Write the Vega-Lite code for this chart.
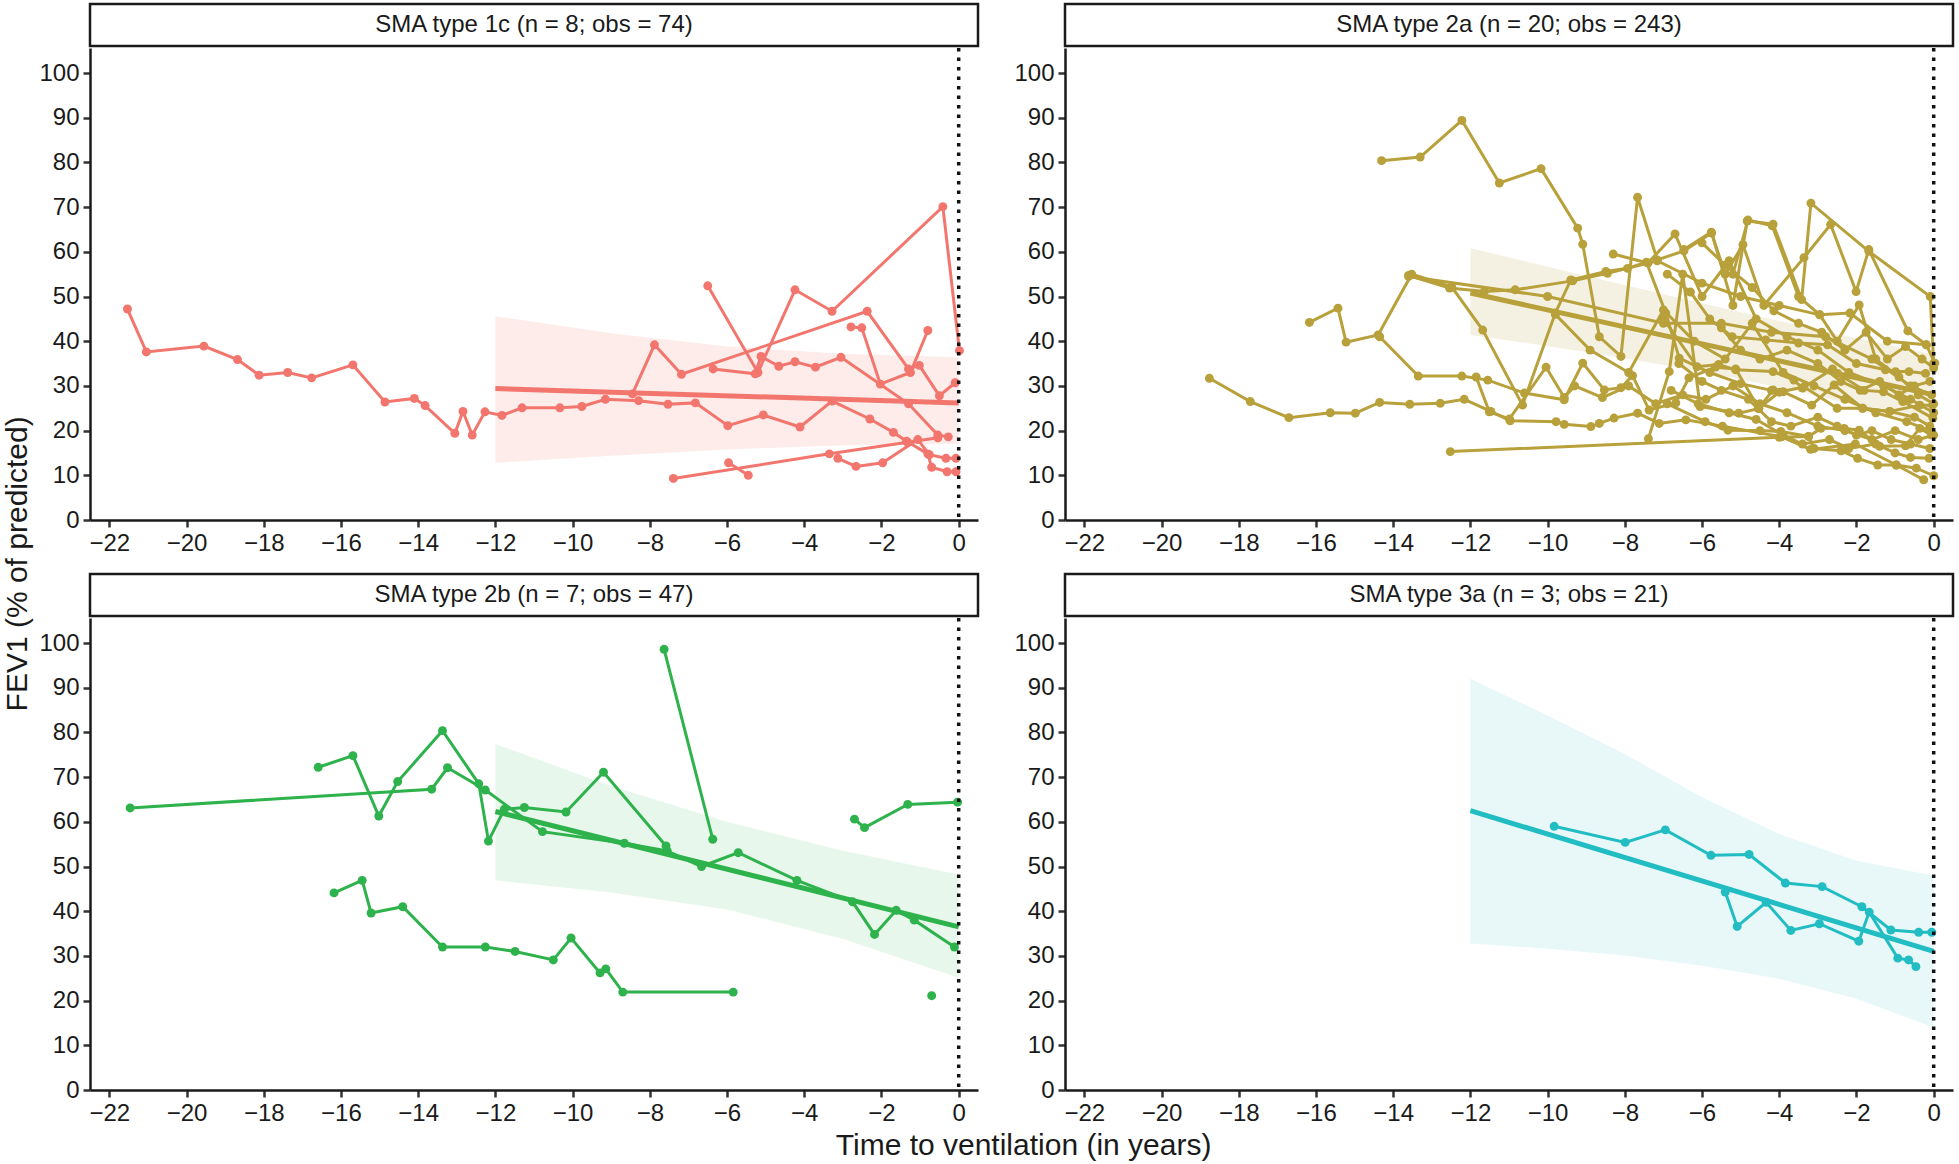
{
"$schema": "https://vega.github.io/schema/vega-lite/v6.json",
"padding": {"left": 2, "top": 2, "right": 4, "bottom": 5},
"background": "white",
"config": {
  "font": "Liberation Sans",
  "view": {"stroke": null},
  "axis": {"grid": false, "domainColor": "#1a1a1a", "domainWidth": 2.5, "tickColor": "#333333", "tickWidth": 2.5, "tickSize": 7, "labelFontSize": 24, "labelColor": "#1a1a1a", "labelPadding": 4, "labelFont": "Liberation Sans"},
  "title": {"fontWeight": "normal", "color": "#1a1a1a", "fontSize": 30, "font": "Liberation Sans"}
},
"datasets": {
"zero": [{"t": 0}],
"fit": [
{"g":"1c","t":-12,"v":29.4},{"g":"1c","t":0,"v":26.2},
{"g":"2a","t":-12,"v":50.8},{"g":"2a","t":0,"v":28.0},
{"g":"2b","t":-12,"v":62.3},{"g":"2b","t":0,"v":36.5},
{"g":"3a","t":-12,"v":62.5},{"g":"3a","t":0,"v":31.0}
],
"band": [
{"g":"1c","t":-12,"lo":12.8,"hi":45.6},{"g":"1c","t":-9,"lo":14.4,"hi":41.8},{"g":"1c","t":-6,"lo":15.8,"hi":38.8},{"g":"1c","t":-3,"lo":16.7,"hi":37.2},{"g":"1c","t":0,"lo":17.0,"hi":36.4},
{"g":"2a","t":-12,"lo":41.4,"hi":60.8},{"g":"2a","t":-9,"lo":37.6,"hi":54.6},{"g":"2a","t":-6,"lo":33.3,"hi":48.5},{"g":"2a","t":-3,"lo":27.8,"hi":42.5},{"g":"2a","t":0,"lo":21.0,"hi":37.0},
{"g":"2b","t":-12,"lo":46.9,"hi":77.4},{"g":"2b","t":-9,"lo":44.2,"hi":68.0},{"g":"2b","t":-6,"lo":40.4,"hi":60.0},{"g":"2b","t":-3,"lo":33.8,"hi":53.5},{"g":"2b","t":0,"lo":25.1,"hi":48.2},
{"g":"3a","t":-12,"lo":32.8,"hi":92.0},{"g":"3a","t":-10,"lo":31.6,"hi":83.8},{"g":"3a","t":-8,"lo":30.1,"hi":75.2},{"g":"3a","t":-6,"lo":27.8,"hi":65.5},{"g":"3a","t":-4,"lo":24.9,"hi":57.3},{"g":"3a","t":-2,"lo":20.4,"hi":51.3},{"g":"3a","t":0,"lo":14.0,"hi":48.0}
],
"traj": [
{"g":"1c","id":"1c1","t":-21.53,"v":47.2},{"g":"1c","id":"1c1","t":-21.04,"v":37.6},{"g":"1c","id":"1c1","t":-19.55,"v":38.9},{"g":"1c","id":"1c1","t":-18.68,"v":35.9},{"g":"1c","id":"1c1","t":-18.12,"v":32.4},{"g":"1c","id":"1c1","t":-17.38,"v":33.0},{"g":"1c","id":"1c1","t":-16.76,"v":31.8},{"g":"1c","id":"1c1","t":-15.69,"v":34.7},{"g":"1c","id":"1c1","t":-14.86,"v":26.4},{"g":"1c","id":"1c1","t":-14.10,"v":27.2},{"g":"1c","id":"1c1","t":-13.82,"v":25.6},{"g":"1c","id":"1c1","t":-13.05,"v":19.4},{"g":"1c","id":"1c1","t":-12.84,"v":24.3},{"g":"1c","id":"1c1","t":-12.60,"v":19.0},{"g":"1c","id":"1c1","t":-12.27,"v":24.2},{"g":"1c","id":"1c1","t":-11.83,"v":23.4},{"g":"1c","id":"1c1","t":-11.31,"v":25.1},{"g":"1c","id":"1c1","t":-10.33,"v":25.1},{"g":"1c","id":"1c1","t":-9.76,"v":25.4},{"g":"1c","id":"1c1","t":-9.15,"v":27.0},{"g":"1c","id":"1c1","t":-8.29,"v":26.7},{"g":"1c","id":"1c1","t":-7.53,"v":25.9},{"g":"1c","id":"1c1","t":-6.82,"v":26.2},{"g":"1c","id":"1c1","t":-5.98,"v":21.1},{"g":"1c","id":"1c1","t":-5.06,"v":23.5},{"g":"1c","id":"1c1","t":-4.11,"v":20.8},{"g":"1c","id":"1c1","t":-3.28,"v":26.6},{"g":"1c","id":"1c1","t":-2.30,"v":22.6},{"g":"1c","id":"1c1","t":-1.69,"v":19.6},{"g":"1c","id":"1c1","t":-1.35,"v":17.6},{"g":"1c","id":"1c1","t":-0.80,"v":14.8},{"g":"1c","id":"1c1","t":-0.70,"v":11.8},{"g":"1c","id":"1c1","t":-0.30,"v":10.8},{"g":"1c","id":"1c1","t":-0.07,"v":10.8},
{"g":"1c","id":"1c2","t":-6.50,"v":52.4},{"g":"1c","id":"1c2","t":-5.20,"v":33.0},{"g":"1c","id":"1c2","t":-4.24,"v":51.5},{"g":"1c","id":"1c2","t":-3.28,"v":46.7},{"g":"1c","id":"1c2","t":-0.41,"v":70.1},{"g":"1c","id":"1c2","t":0.02,"v":37.9},
{"g":"1c","id":"1c3","t":-8.45,"v":28.2},{"g":"1c","id":"1c3","t":-7.88,"v":39.2},{"g":"1c","id":"1c3","t":-7.18,"v":32.6},{"g":"1c","id":"1c3","t":-2.37,"v":46.7},{"g":"1c","id":"1c3","t":-1.30,"v":33.8},{"g":"1c","id":"1c3","t":-1.02,"v":34.6},{"g":"1c","id":"1c3","t":-0.50,"v":27.8},{"g":"1c","id":"1c3","t":-0.09,"v":30.7},
{"g":"1c","id":"1c4","t":-6.36,"v":33.8},{"g":"1c","id":"1c4","t":-5.27,"v":32.7},{"g":"1c","id":"1c4","t":-5.12,"v":36.6},{"g":"1c","id":"1c4","t":-4.66,"v":34.4},{"g":"1c","id":"1c4","t":-4.24,"v":35.4},{"g":"1c","id":"1c4","t":-3.71,"v":34.2},{"g":"1c","id":"1c4","t":-3.05,"v":36.4},{"g":"1c","id":"1c4","t":-1.30,"v":26.0},{"g":"1c","id":"1c4","t":-0.54,"v":19.0},{"g":"1c","id":"1c4","t":-0.27,"v":18.6},
{"g":"1c","id":"1c5","t":-2.79,"v":43.2},{"g":"1c","id":"1c5","t":-2.51,"v":43.0},{"g":"1c","id":"1c5","t":-2.03,"v":30.4},{"g":"1c","id":"1c5","t":-1.25,"v":33.0},{"g":"1c","id":"1c5","t":-0.80,"v":42.4},
{"g":"1c","id":"1c6","t":-7.39,"v":9.3},{"g":"1c","id":"1c6","t":-3.35,"v":14.8},{"g":"1c","id":"1c6","t":-1.32,"v":17.4},{"g":"1c","id":"1c6","t":-0.54,"v":18.4},
{"g":"1c","id":"1c7","t":-5.96,"v":12.8},{"g":"1c","id":"1c7","t":-5.45,"v":10.0},
{"g":"1c","id":"1c8","t":-3.13,"v":13.8},{"g":"1c","id":"1c8","t":-2.66,"v":12.0},{"g":"1c","id":"1c8","t":-1.97,"v":12.8},{"g":"1c","id":"1c8","t":-1.06,"v":18.0},{"g":"1c","id":"1c8","t":-0.76,"v":14.6},{"g":"1c","id":"1c8","t":-0.33,"v":13.8},{"g":"1c","id":"1c8","t":-0.07,"v":13.8},

{"g":"2b","id":"2b1","t":-21.46,"v":63.1},{"g":"2b","id":"2b1","t":-13.65,"v":67.3},{"g":"2b","id":"2b1","t":-13.24,"v":72.1},{"g":"2b","id":"2b1","t":-12.26,"v":67.1},{"g":"2b","id":"2b1","t":-10.78,"v":57.8},{"g":"2b","id":"2b1","t":-8.66,"v":55.2},{"g":"2b","id":"2b1","t":-7.55,"v":53.5},{"g":"2b","id":"2b1","t":-6.66,"v":50.0},{"g":"2b","id":"2b1","t":-5.71,"v":53.1},{"g":"2b","id":"2b1","t":-4.19,"v":46.9},{"g":"2b","id":"2b1","t":-2.75,"v":42.1},{"g":"2b","id":"2b1","t":-2.18,"v":34.8},{"g":"2b","id":"2b1","t":-1.62,"v":40.2},{"g":"2b","id":"2b1","t":-1.15,"v":38.0},{"g":"2b","id":"2b1","t":-0.11,"v":32.0},
{"g":"2b","id":"2b2","t":-16.59,"v":72.2},{"g":"2b","id":"2b2","t":-15.69,"v":74.8},{"g":"2b","id":"2b2","t":-15.02,"v":61.3},{"g":"2b","id":"2b2","t":-14.53,"v":69.0},{"g":"2b","id":"2b2","t":-13.37,"v":80.4},{"g":"2b","id":"2b2","t":-12.43,"v":68.5},{"g":"2b","id":"2b2","t":-12.18,"v":55.7},{"g":"2b","id":"2b2","t":-11.77,"v":62.8},{"g":"2b","id":"2b2","t":-11.25,"v":63.2},{"g":"2b","id":"2b2","t":-10.17,"v":62.2},{"g":"2b","id":"2b2","t":-9.20,"v":71.1},{"g":"2b","id":"2b2","t":-7.58,"v":54.6},
{"g":"2b","id":"2b3","t":-7.63,"v":98.6},{"g":"2b","id":"2b3","t":-6.37,"v":56.1},
{"g":"2b","id":"2b4","t":-16.18,"v":44.1},{"g":"2b","id":"2b4","t":-15.45,"v":46.9},{"g":"2b","id":"2b4","t":-15.22,"v":39.6},{"g":"2b","id":"2b4","t":-14.40,"v":41.0},{"g":"2b","id":"2b4","t":-13.37,"v":32.0},{"g":"2b","id":"2b4","t":-12.26,"v":32.0},{"g":"2b","id":"2b4","t":-11.49,"v":31.0},{"g":"2b","id":"2b4","t":-10.50,"v":29.1},{"g":"2b","id":"2b4","t":-10.04,"v":34.0},{"g":"2b","id":"2b4","t":-9.29,"v":26.2},{"g":"2b","id":"2b4","t":-9.14,"v":27.1},{"g":"2b","id":"2b4","t":-8.70,"v":21.9},{"g":"2b","id":"2b4","t":-5.84,"v":21.9},
{"g":"2b","id":"2b5","t":-2.70,"v":60.6},{"g":"2b","id":"2b5","t":-2.44,"v":58.7},{"g":"2b","id":"2b5","t":-1.32,"v":63.9},{"g":"2b","id":"2b5","t":-0.03,"v":64.4},
{"g":"2b","id":"2b6","t":-0.70,"v":21.1},

{"g":"3a","id":"3a1","t":-9.83,"v":59.0},{"g":"3a","id":"3a1","t":-7.99,"v":55.4},{"g":"3a","id":"3a1","t":-6.95,"v":58.2},{"g":"3a","id":"3a1","t":-5.77,"v":52.5},{"g":"3a","id":"3a1","t":-4.78,"v":52.7},{"g":"3a","id":"3a1","t":-3.84,"v":46.3},{"g":"3a","id":"3a1","t":-2.89,"v":45.5},{"g":"3a","id":"3a1","t":-1.86,"v":41.0},{"g":"3a","id":"3a1","t":-1.11,"v":35.8},{"g":"3a","id":"3a1","t":-0.39,"v":35.3},{"g":"3a","id":"3a1","t":-0.05,"v":35.3},
{"g":"3a","id":"3a2","t":-5.40,"v":44.3},{"g":"3a","id":"3a2","t":-5.09,"v":36.6},{"g":"3a","id":"3a2","t":-4.34,"v":42.0},{"g":"3a","id":"3a2","t":-3.70,"v":35.7},{"g":"3a","id":"3a2","t":-2.96,"v":37.2},{"g":"3a","id":"3a2","t":-1.94,"v":33.3},{"g":"3a","id":"3a2","t":-1.67,"v":39.8},{"g":"3a","id":"3a2","t":-0.93,"v":29.5},{"g":"3a","id":"3a2","t":-0.65,"v":29.1},{"g":"3a","id":"3a2","t":-0.46,"v":27.6},

{"g":"2a","id":"a1","t":-14.30,"v":80.4},{"g":"2a","id":"a1","t":-13.30,"v":81.2},{"g":"2a","id":"a1","t":-12.22,"v":89.4},{"g":"2a","id":"a1","t":-11.25,"v":75.4},{"g":"2a","id":"a1","t":-10.17,"v":78.6},{"g":"2a","id":"a1","t":-9.22,"v":65.3},{"g":"2a","id":"a1","t":-9.09,"v":61.7},{"g":"2a","id":"a1","t":-8.66,"v":41.0},{"g":"2a","id":"a1","t":-8.10,"v":36.6},{"g":"2a","id":"a1","t":-7.67,"v":72.2},{"g":"2a","id":"a1","t":-7.16,"v":58.2},{"g":"2a","id":"a1","t":-6.47,"v":60.2},{"g":"2a","id":"a1","t":-5.75,"v":64.2},{"g":"2a","id":"a1","t":-5.20,"v":48.0},{"g":"2a","id":"a1","t":-4.83,"v":66.9},{"g":"2a","id":"a1","t":-4.16,"v":66.2},{"g":"2a","id":"a1","t":-3.42,"v":49.3},{"g":"2a","id":"a1","t":-3.18,"v":70.9},{"g":"2a","id":"a1","t":-1.68,"v":60.1},{"g":"2a","id":"a1","t":-0.09,"v":50.0},{"g":"2a","id":"a1","t":0.0,"v":35.1},
{"g":"2a","id":"a2","t":-18.76,"v":31.7},{"g":"2a","id":"a2","t":-17.70,"v":26.5},{"g":"2a","id":"a2","t":-16.70,"v":22.9},{"g":"2a","id":"a2","t":-15.63,"v":24.0},{"g":"2a","id":"a2","t":-14.98,"v":23.9},{"g":"2a","id":"a2","t":-14.35,"v":26.3},{"g":"2a","id":"a2","t":-13.57,"v":25.9},{"g":"2a","id":"a2","t":-12.78,"v":26.1},{"g":"2a","id":"a2","t":-12.16,"v":27.0},{"g":"2a","id":"a2","t":-11.47,"v":24.3},{"g":"2a","id":"a2","t":-10.97,"v":22.2},{"g":"2a","id":"a2","t":-9.78,"v":22.0},{"g":"2a","id":"a2","t":-9.57,"v":21.4},{"g":"2a","id":"a2","t":-8.88,"v":20.9},{"g":"2a","id":"a2","t":-8.66,"v":21.6},{"g":"2a","id":"a2","t":-8.28,"v":22.8},{"g":"2a","id":"a2","t":-7.67,"v":23.9},{"g":"2a","id":"a2","t":-7.11,"v":21.6},{"g":"2a","id":"a2","t":-6.42,"v":22.4},{"g":"2a","id":"a2","t":-5.47,"v":21.0},{"g":"2a","id":"a2","t":-3.94,"v":18.6},{"g":"2a","id":"a2","t":-3.19,"v":15.8},{"g":"2a","id":"a2","t":-2.03,"v":17.0},{"g":"2a","id":"a2","t":-0.97,"v":12.3},{"g":"2a","id":"a2","t":-0.26,"v":9.0},
{"g":"2a","id":"a3","t":-16.17,"v":44.2},{"g":"2a","id":"a3","t":-15.43,"v":47.4},{"g":"2a","id":"a3","t":-15.22,"v":39.8},{"g":"2a","id":"a3","t":-14.39,"v":41.4},{"g":"2a","id":"a3","t":-13.52,"v":55.0},{"g":"2a","id":"a3","t":-12.48,"v":52.1},{"g":"2a","id":"a3","t":-11.68,"v":42.5},{"g":"2a","id":"a3","t":-10.65,"v":25.7},{"g":"2a","id":"a3","t":-9.80,"v":46.3},{"g":"2a","id":"a3","t":-9.40,"v":53.7},{"g":"2a","id":"a3","t":-8.49,"v":55.6},{"g":"2a","id":"a3","t":-7.93,"v":56.3},{"g":"2a","id":"a3","t":-7.44,"v":57.7},{"g":"2a","id":"a3","t":-6.94,"v":46.3},{"g":"2a","id":"a3","t":-6.59,"v":36.2},{"g":"2a","id":"a3","t":-5.80,"v":33.0},{"g":"2a","id":"a3","t":-5.00,"v":30.5},{"g":"2a","id":"a3","t":-4.20,"v":29.0},
{"g":"2a","id":"a4","t":-14.35,"v":41.0},{"g":"2a","id":"a4","t":-13.35,"v":32.2},{"g":"2a","id":"a4","t":-12.22,"v":32.2},{"g":"2a","id":"a4","t":-11.55,"v":31.3},{"g":"2a","id":"a4","t":-10.60,"v":28.4},{"g":"2a","id":"a4","t":-9.57,"v":26.9},{"g":"2a","id":"a4","t":-9.09,"v":35.1},{"g":"2a","id":"a4","t":-8.53,"v":29.1},{"g":"2a","id":"a4","t":-8.10,"v":29.6},{"g":"2a","id":"a4","t":-7.80,"v":32.3},{"g":"2a","id":"a4","t":-7.37,"v":24.6},{"g":"2a","id":"a4","t":-6.68,"v":26.2},{"g":"2a","id":"a4","t":-6.34,"v":31.8},{"g":"2a","id":"a4","t":-5.65,"v":34.2},{"g":"2a","id":"a4","t":-5.13,"v":33.8},{"g":"2a","id":"a4","t":-4.53,"v":25.0},{"g":"2a","id":"a4","t":-4.00,"v":28.6},{"g":"2a","id":"a4","t":-3.36,"v":29.8},{"g":"2a","id":"a4","t":-2.50,"v":25.0},{"g":"2a","id":"a4","t":-1.84,"v":25.0},{"g":"2a","id":"a4","t":-1.14,"v":24.3},{"g":"2a","id":"a4","t":-0.36,"v":25.7},{"g":"2a","id":"a4","t":-0.03,"v":25.7},
{"g":"2a","id":"a5","t":-13.60,"v":54.7},{"g":"2a","id":"a5","t":-12.54,"v":51.9},{"g":"2a","id":"a5","t":-11.64,"v":51.1},{"g":"2a","id":"a5","t":-10.84,"v":51.5},{"g":"2a","id":"a5","t":-9.35,"v":53.5},{"g":"2a","id":"a5","t":-8.45,"v":55.2},{"g":"2a","id":"a5","t":-7.16,"v":58.0},{"g":"2a","id":"a5","t":-6.00,"v":53.0},{"g":"2a","id":"a5","t":-5.00,"v":50.0},{"g":"2a","id":"a5","t":-4.00,"v":48.0},{"g":"2a","id":"a5","t":-2.95,"v":45.9},{"g":"2a","id":"a5","t":-2.17,"v":46.3},{"g":"2a","id":"a5","t":-1.20,"v":40.0},{"g":"2a","id":"a5","t":-0.19,"v":39.2},
{"g":"2a","id":"a7","t":-12.52,"v":15.3},{"g":"2a","id":"a7","t":-4.00,"v":18.5},{"g":"2a","id":"a7","t":-3.24,"v":18.7},{"g":"2a","id":"a7","t":-2.92,"v":20.5},{"g":"2a","id":"a7","t":-2.32,"v":20.5},{"g":"2a","id":"a7","t":-1.93,"v":20.1},{"g":"2a","id":"a7","t":-1.40,"v":16.5},{"g":"2a","id":"a7","t":-0.73,"v":16.6},{"g":"2a","id":"a7","t":-0.36,"v":20.5},{"g":"2a","id":"a7","t":-0.06,"v":19.0},
{"g":"2a","id":"a8","t":-6.47,"v":60.5},{"g":"2a","id":"a8","t":-5.76,"v":64.4},{"g":"2a","id":"a8","t":-5.40,"v":55.0},{"g":"2a","id":"a8","t":-4.94,"v":61.6},{"g":"2a","id":"a8","t":-4.40,"v":48.0},{"g":"2a","id":"a8","t":-3.36,"v":58.7},{"g":"2a","id":"a8","t":-2.67,"v":66.1},{"g":"2a","id":"a8","t":-2.01,"v":51.1},{"g":"2a","id":"a8","t":-1.68,"v":60.5},{"g":"2a","id":"a8","t":-0.67,"v":42.3},{"g":"2a","id":"a8","t":-0.19,"v":39.2},{"g":"2a","id":"a8","t":0.03,"v":35.1},
{"g":"2a","id":"a9","t":-6.90,"v":55.0},{"g":"2a","id":"a9","t":-6.30,"v":51.0},{"g":"2a","id":"a9","t":-5.80,"v":45.0},{"g":"2a","id":"a9","t":-5.22,"v":41.0},{"g":"2a","id":"a9","t":-4.35,"v":40.3},{"g":"2a","id":"a9","t":-3.50,"v":39.6},{"g":"2a","id":"a9","t":-2.75,"v":39.2},{"g":"2a","id":"a9","t":-2.00,"v":35.0},{"g":"2a","id":"a9","t":-1.25,"v":33.6},{"g":"2a","id":"a9","t":-0.99,"v":33.2},{"g":"2a","id":"a9","t":-0.64,"v":33.2},{"g":"2a","id":"a9","t":-0.21,"v":32.8},
{"g":"2a","id":"a10","t":-7.00,"v":45.0},{"g":"2a","id":"a10","t":-6.13,"v":34.3},{"g":"2a","id":"a10","t":-5.57,"v":34.8},{"g":"2a","id":"a10","t":-5.13,"v":33.6},{"g":"2a","id":"a10","t":-4.16,"v":33.2},{"g":"2a","id":"a10","t":-3.62,"v":31.3},{"g":"2a","id":"a10","t":-3.40,"v":29.5},{"g":"2a","id":"a10","t":-2.62,"v":33.8},{"g":"2a","id":"a10","t":-2.49,"v":32.8},{"g":"2a","id":"a10","t":-1.80,"v":29.0},{"g":"2a","id":"a10","t":-1.30,"v":28.7},{"g":"2a","id":"a10","t":-0.80,"v":26.5},{"g":"2a","id":"a10","t":-0.02,"v":22.8},
{"g":"2a","id":"a11","t":-7.39,"v":18.2},{"g":"2a","id":"a11","t":-6.85,"v":33.2},{"g":"2a","id":"a11","t":-6.50,"v":55.0},{"g":"2a","id":"a11","t":-6.05,"v":25.4},{"g":"2a","id":"a11","t":-5.05,"v":23.9},{"g":"2a","id":"a11","t":-4.54,"v":24.9},{"g":"2a","id":"a11","t":-4.16,"v":29.1},{"g":"2a","id":"a11","t":-3.90,"v":28.7},{"g":"2a","id":"a11","t":-3.16,"v":25.7},{"g":"2a","id":"a11","t":-2.58,"v":30.2},{"g":"2a","id":"a11","t":-1.84,"v":25.0},{"g":"2a","id":"a11","t":-1.14,"v":24.3},{"g":"2a","id":"a11","t":-0.50,"v":23.0},{"g":"2a","id":"a11","t":-0.10,"v":21.0},
{"g":"2a","id":"a12","t":-6.90,"v":26.0},{"g":"2a","id":"a12","t":-5.92,"v":22.0},{"g":"2a","id":"a12","t":-5.33,"v":20.1},{"g":"2a","id":"a12","t":-4.50,"v":20.0},{"g":"2a","id":"a12","t":-3.96,"v":19.8},{"g":"2a","id":"a12","t":-3.24,"v":18.7},{"g":"2a","id":"a12","t":-3.10,"v":16.0},{"g":"2a","id":"a12","t":-2.40,"v":15.5},{"g":"2a","id":"a12","t":-1.97,"v":13.8},{"g":"2a","id":"a12","t":-1.45,"v":12.3},{"g":"2a","id":"a12","t":-0.97,"v":12.3},{"g":"2a","id":"a12","t":-0.45,"v":11.6},{"g":"2a","id":"a12","t":0.0,"v":9.9},
{"g":"2a","id":"a13","t":-6.80,"v":29.0},{"g":"2a","id":"a13","t":-6.10,"v":26.0},{"g":"2a","id":"a13","t":-5.30,"v":24.0},{"g":"2a","id":"a13","t":-4.60,"v":22.5},{"g":"2a","id":"a13","t":-3.90,"v":19.0},{"g":"2a","id":"a13","t":-3.40,"v":17.0},{"g":"2a","id":"a13","t":-2.70,"v":18.0},{"g":"2a","id":"a13","t":-2.20,"v":16.0},{"g":"2a","id":"a13","t":-1.50,"v":17.0},{"g":"2a","id":"a13","t":-1.00,"v":15.0},{"g":"2a","id":"a13","t":-0.60,"v":14.0},{"g":"2a","id":"a13","t":-0.12,"v":13.8},
{"g":"2a","id":"a14","t":-6.00,"v":62.0},{"g":"2a","id":"a14","t":-5.40,"v":57.0},{"g":"2a","id":"a14","t":-4.70,"v":52.0},{"g":"2a","id":"a14","t":-4.14,"v":46.8},{"g":"2a","id":"a14","t":-3.50,"v":44.0},{"g":"2a","id":"a14","t":-2.90,"v":42.0},{"g":"2a","id":"a14","t":-2.30,"v":38.0},{"g":"2a","id":"a14","t":-1.75,"v":42.0},{"g":"2a","id":"a14","t":-1.20,"v":36.0},{"g":"2a","id":"a14","t":-0.73,"v":38.8},{"g":"2a","id":"a14","t":-0.30,"v":36.0},{"g":"2a","id":"a14","t":0.0,"v":34.0},
{"g":"2a","id":"a15","t":-5.50,"v":43.0},{"g":"2a","id":"a15","t":-5.00,"v":38.0},{"g":"2a","id":"a15","t":-4.50,"v":36.0},{"g":"2a","id":"a15","t":-3.80,"v":38.0},{"g":"2a","id":"a15","t":-3.00,"v":35.0},{"g":"2a","id":"a15","t":-2.40,"v":31.0},{"g":"2a","id":"a15","t":-1.90,"v":29.0},{"g":"2a","id":"a15","t":-1.40,"v":31.0},{"g":"2a","id":"a15","t":-0.90,"v":28.0},{"g":"2a","id":"a15","t":-0.50,"v":30.0},{"g":"2a","id":"a15","t":-0.10,"v":31.0},
{"g":"2a","id":"a16","t":-6.60,"v":35.0},{"g":"2a","id":"a16","t":-6.00,"v":31.0},{"g":"2a","id":"a16","t":-5.50,"v":29.0},{"g":"2a","id":"a16","t":-4.80,"v":27.0},{"g":"2a","id":"a16","t":-4.20,"v":22.0},{"g":"2a","id":"a16","t":-3.70,"v":21.0},{"g":"2a","id":"a16","t":-3.00,"v":23.0},{"g":"2a","id":"a16","t":-2.50,"v":21.0},{"g":"2a","id":"a16","t":-2.00,"v":19.0},{"g":"2a","id":"a16","t":-1.60,"v":20.0},{"g":"2a","id":"a16","t":-1.10,"v":18.0},{"g":"2a","id":"a16","t":-0.60,"v":17.0},{"g":"2a","id":"a16","t":-0.10,"v":16.0},
{"g":"2a","id":"a17","t":-5.20,"v":55.0},{"g":"2a","id":"a17","t":-4.81,"v":67.1},{"g":"2a","id":"a17","t":-4.18,"v":65.8},{"g":"2a","id":"a17","t":-3.50,"v":50.0},{"g":"2a","id":"a17","t":-2.95,"v":45.9},{"g":"2a","id":"a17","t":-2.50,"v":40.0},{"g":"2a","id":"a17","t":-1.93,"v":48.1},{"g":"2a","id":"a17","t":-1.50,"v":36.0},{"g":"2a","id":"a17","t":-0.90,"v":32.0},{"g":"2a","id":"a17","t":-0.40,"v":28.0},{"g":"2a","id":"a17","t":0.0,"v":26.0},
{"g":"2a","id":"a19","t":-11.85,"v":32.0},{"g":"2a","id":"a19","t":-11.51,"v":24.2},{"g":"2a","id":"a19","t":-10.99,"v":22.6},{"g":"2a","id":"a19","t":-10.04,"v":34.2},{"g":"2a","id":"a19","t":-9.57,"v":27.4},{"g":"2a","id":"a19","t":-9.30,"v":30.0},{"g":"2a","id":"a19","t":-8.58,"v":27.4},{"g":"2a","id":"a19","t":-7.90,"v":30.0},{"g":"2a","id":"a19","t":-7.20,"v":26.0},{"g":"2a","id":"a19","t":-6.50,"v":28.0},{"g":"2a","id":"a19","t":-5.90,"v":27.0},{"g":"2a","id":"a19","t":-5.20,"v":30.0},{"g":"2a","id":"a19","t":-4.50,"v":26.0},{"g":"2a","id":"a19","t":-3.80,"v":24.0},{"g":"2a","id":"a19","t":-3.00,"v":21.0},{"g":"2a","id":"a19","t":-2.30,"v":20.0},{"g":"2a","id":"a19","t":-1.60,"v":18.0},{"g":"2a","id":"a19","t":-1.00,"v":20.0},{"g":"2a","id":"a19","t":-0.40,"v":18.0},{"g":"2a","id":"a19","t":0.0,"v":19.0},
{"g":"2a","id":"a20","t":-13.60,"v":54.5},{"g":"2a","id":"a20","t":-10.00,"v":50.0},{"g":"2a","id":"a20","t":-7.00,"v":44.0},{"g":"2a","id":"a20","t":-5.50,"v":44.0},{"g":"2a","id":"a20","t":-4.20,"v":42.0},{"g":"2a","id":"a20","t":-2.80,"v":41.0},{"g":"2a","id":"a20","t":-1.60,"v":36.0},{"g":"2a","id":"a20","t":-0.60,"v":30.0},{"g":"2a","id":"a20","t":-0.05,"v":28.0},
{"g":"2a","id":"a21","t":-8.30,"v":59.5},{"g":"2a","id":"a21","t":-7.40,"v":57.5},{"g":"2a","id":"a21","t":-6.70,"v":64.0},{"g":"2a","id":"a21","t":-6.00,"v":50.0},{"g":"2a","id":"a21","t":-5.30,"v":58.0},{"g":"2a","id":"a21","t":-4.60,"v":45.0},{"g":"2a","id":"a21","t":-3.80,"v":41.0},{"g":"2a","id":"a21","t":-3.00,"v":38.0},{"g":"2a","id":"a21","t":-2.20,"v":33.0},{"g":"2a","id":"a21","t":-1.30,"v":30.0},{"g":"2a","id":"a21","t":-0.60,"v":27.0},{"g":"2a","id":"a21","t":0.0,"v":24.0},
{"g":"2a","id":"a22","t":-9.80,"v":46.0},{"g":"2a","id":"a22","t":-8.90,"v":38.0},{"g":"2a","id":"a22","t":-7.90,"v":33.0},{"g":"2a","id":"a22","t":-7.00,"v":47.0},{"g":"2a","id":"a22","t":-6.20,"v":40.0},{"g":"2a","id":"a22","t":-5.40,"v":36.0},{"g":"2a","id":"a22","t":-4.70,"v":44.0},{"g":"2a","id":"a22","t":-3.90,"v":33.0},{"g":"2a","id":"a22","t":-3.10,"v":30.0},{"g":"2a","id":"a22","t":-2.30,"v":27.0},{"g":"2a","id":"a22","t":-1.50,"v":24.0},{"g":"2a","id":"a22","t":-0.70,"v":22.0},{"g":"2a","id":"a22","t":-0.10,"v":20.0}
]
},
"title": {"text": "Time to ventilation (in years)", "orient": "bottom", "anchor": "middle", "offset": 6, "dx": 45},
"spacing": 33,
"hconcat": [
{
"title": {"text": "FEV1 (% of predicted)", "orient": "left", "anchor": "middle", "offset": 6},
"spacing": 17,
"vconcat": [
 {"spacing": -5, "vconcat": [
  {"width": 888, "height": 42, "view": {"stroke": "#1a1a1a", "strokeWidth": 2.5, "fill": "white"}, "data": {"values": [{"label": "SMA type 1c (n = 8; obs = 74)"}]}, "mark": {"type": "text", "fontSize": 24, "color": "#1a1a1a"}, "encoding": {"text": {"field": "label"}}},
  {"width": 888, "height": 472,
   "encoding": {"x": {"field": "t", "type": "quantitative", "title": null, "scale": {"domain": [-22.5, 0.5], "nice": false, "zero": false}, "axis": {"values": [-22,-20,-18,-16,-14,-12,-10,-8,-6,-4,-2,0]}}},
   "layer": [
    {"data": {"name": "band"}, "transform": [{"filter": "datum.g === '1c'"}], "mark": {"type": "area", "color": "#F2766D", "opacity": 0.14}, "encoding": {"y": {"field": "lo", "type": "quantitative", "title": null, "scale": {"domain": [0, 105.6], "nice": false, "zero": false}, "axis": {"values": [0,10,20,30,40,50,60,70,80,90,100]}}, "y2": {"field": "hi"}}},
    {"data": {"name": "traj"}, "transform": [{"filter": "datum.g === '1c'"}], "mark": {"type": "line", "strokeWidth": 3, "color": "#F2766D"}, "encoding": {"y": {"field": "v", "type": "quantitative", "title": null}, "detail": {"field": "id"}}},
    {"data": {"name": "traj"}, "transform": [{"filter": "datum.g === '1c'"}], "mark": {"type": "point", "filled": true, "opacity": 1, "size": 80, "color": "#F2766D"}, "encoding": {"y": {"field": "v", "type": "quantitative", "title": null}}},
    {"data": {"name": "fit"}, "transform": [{"filter": "datum.g === '1c'"}], "mark": {"type": "line", "strokeWidth": 5, "color": "#F2766D"}, "encoding": {"y": {"field": "v", "type": "quantitative", "title": null}}},
    {"data": {"name": "zero"}, "mark": {"type": "rule", "strokeDash": [3.5, 6], "strokeWidth": 3.5, "color": "#111111"}, "encoding": {}}
   ]}
 ]},
 {"spacing": -5, "vconcat": [
  {"width": 888, "height": 42, "view": {"stroke": "#1a1a1a", "strokeWidth": 2.5, "fill": "white"}, "data": {"values": [{"label": "SMA type 2b (n = 7; obs = 47)"}]}, "mark": {"type": "text", "fontSize": 24, "color": "#1a1a1a"}, "encoding": {"text": {"field": "label"}}},
  {"width": 888, "height": 472,
   "encoding": {"x": {"field": "t", "type": "quantitative", "title": null, "scale": {"domain": [-22.5, 0.5], "nice": false, "zero": false}, "axis": {"values": [-22,-20,-18,-16,-14,-12,-10,-8,-6,-4,-2,0]}}},
   "layer": [
    {"data": {"name": "band"}, "transform": [{"filter": "datum.g === '2b'"}], "mark": {"type": "area", "color": "#2EB24C", "opacity": 0.11}, "encoding": {"y": {"field": "lo", "type": "quantitative", "title": null, "scale": {"domain": [0, 105.6], "nice": false, "zero": false}, "axis": {"values": [0,10,20,30,40,50,60,70,80,90,100]}}, "y2": {"field": "hi"}}},
    {"data": {"name": "traj"}, "transform": [{"filter": "datum.g === '2b'"}], "mark": {"type": "line", "strokeWidth": 3, "color": "#2EB24C"}, "encoding": {"y": {"field": "v", "type": "quantitative", "title": null}, "detail": {"field": "id"}}},
    {"data": {"name": "traj"}, "transform": [{"filter": "datum.g === '2b'"}], "mark": {"type": "point", "filled": true, "opacity": 1, "size": 80, "color": "#2EB24C"}, "encoding": {"y": {"field": "v", "type": "quantitative", "title": null}}},
    {"data": {"name": "fit"}, "transform": [{"filter": "datum.g === '2b'"}], "mark": {"type": "line", "strokeWidth": 5, "color": "#2EB24C"}, "encoding": {"y": {"field": "v", "type": "quantitative", "title": null}}},
    {"data": {"name": "zero"}, "mark": {"type": "rule", "strokeDash": [3.5, 6], "strokeWidth": 3.5, "color": "#111111"}, "encoding": {}}
   ]}
 ]}
]
},
{
"spacing": 17,
"vconcat": [
 {"spacing": -5, "vconcat": [
  {"width": 888, "height": 42, "view": {"stroke": "#1a1a1a", "strokeWidth": 2.5, "fill": "white"}, "data": {"values": [{"label": "SMA type 2a (n = 20; obs = 243)"}]}, "mark": {"type": "text", "fontSize": 24, "color": "#1a1a1a"}, "encoding": {"text": {"field": "label"}}},
  {"width": 888, "height": 472,
   "encoding": {"x": {"field": "t", "type": "quantitative", "title": null, "scale": {"domain": [-22.5, 0.5], "nice": false, "zero": false}, "axis": {"values": [-22,-20,-18,-16,-14,-12,-10,-8,-6,-4,-2,0]}}},
   "layer": [
    {"data": {"name": "band"}, "transform": [{"filter": "datum.g === '2a'"}], "mark": {"type": "area", "color": "#B8A03B", "opacity": 0.15}, "encoding": {"y": {"field": "lo", "type": "quantitative", "title": null, "scale": {"domain": [0, 105.6], "nice": false, "zero": false}, "axis": {"values": [0,10,20,30,40,50,60,70,80,90,100]}}, "y2": {"field": "hi"}}},
    {"data": {"name": "traj"}, "transform": [{"filter": "datum.g === '2a'"}], "mark": {"type": "line", "strokeWidth": 3, "color": "#B8A03B"}, "encoding": {"y": {"field": "v", "type": "quantitative", "title": null}, "detail": {"field": "id"}}},
    {"data": {"name": "traj"}, "transform": [{"filter": "datum.g === '2a'"}], "mark": {"type": "point", "filled": true, "opacity": 1, "size": 80, "color": "#B8A03B"}, "encoding": {"y": {"field": "v", "type": "quantitative", "title": null}}},
    {"data": {"name": "fit"}, "transform": [{"filter": "datum.g === '2a'"}], "mark": {"type": "line", "strokeWidth": 5, "color": "#B8A03B"}, "encoding": {"y": {"field": "v", "type": "quantitative", "title": null}}},
    {"data": {"name": "zero"}, "mark": {"type": "rule", "strokeDash": [3.5, 6], "strokeWidth": 3.5, "color": "#111111"}, "encoding": {}}
   ]}
 ]},
 {"spacing": -5, "vconcat": [
  {"width": 888, "height": 42, "view": {"stroke": "#1a1a1a", "strokeWidth": 2.5, "fill": "white"}, "data": {"values": [{"label": "SMA type 3a (n = 3; obs = 21)"}]}, "mark": {"type": "text", "fontSize": 24, "color": "#1a1a1a"}, "encoding": {"text": {"field": "label"}}},
  {"width": 888, "height": 472,
   "encoding": {"x": {"field": "t", "type": "quantitative", "title": null, "scale": {"domain": [-22.5, 0.5], "nice": false, "zero": false}, "axis": {"values": [-22,-20,-18,-16,-14,-12,-10,-8,-6,-4,-2,0]}}},
   "layer": [
    {"data": {"name": "band"}, "transform": [{"filter": "datum.g === '3a'"}], "mark": {"type": "area", "color": "#22BDC3", "opacity": 0.1}, "encoding": {"y": {"field": "lo", "type": "quantitative", "title": null, "scale": {"domain": [0, 105.6], "nice": false, "zero": false}, "axis": {"values": [0,10,20,30,40,50,60,70,80,90,100]}}, "y2": {"field": "hi"}}},
    {"data": {"name": "traj"}, "transform": [{"filter": "datum.g === '3a'"}], "mark": {"type": "line", "strokeWidth": 3, "color": "#22BDC3"}, "encoding": {"y": {"field": "v", "type": "quantitative", "title": null}, "detail": {"field": "id"}}},
    {"data": {"name": "traj"}, "transform": [{"filter": "datum.g === '3a'"}], "mark": {"type": "point", "filled": true, "opacity": 1, "size": 80, "color": "#22BDC3"}, "encoding": {"y": {"field": "v", "type": "quantitative", "title": null}}},
    {"data": {"name": "fit"}, "transform": [{"filter": "datum.g === '3a'"}], "mark": {"type": "line", "strokeWidth": 5, "color": "#22BDC3"}, "encoding": {"y": {"field": "v", "type": "quantitative", "title": null}}},
    {"data": {"name": "zero"}, "mark": {"type": "rule", "strokeDash": [3.5, 6], "strokeWidth": 3.5, "color": "#111111"}, "encoding": {}}
   ]}
 ]}
]
}
]
}
